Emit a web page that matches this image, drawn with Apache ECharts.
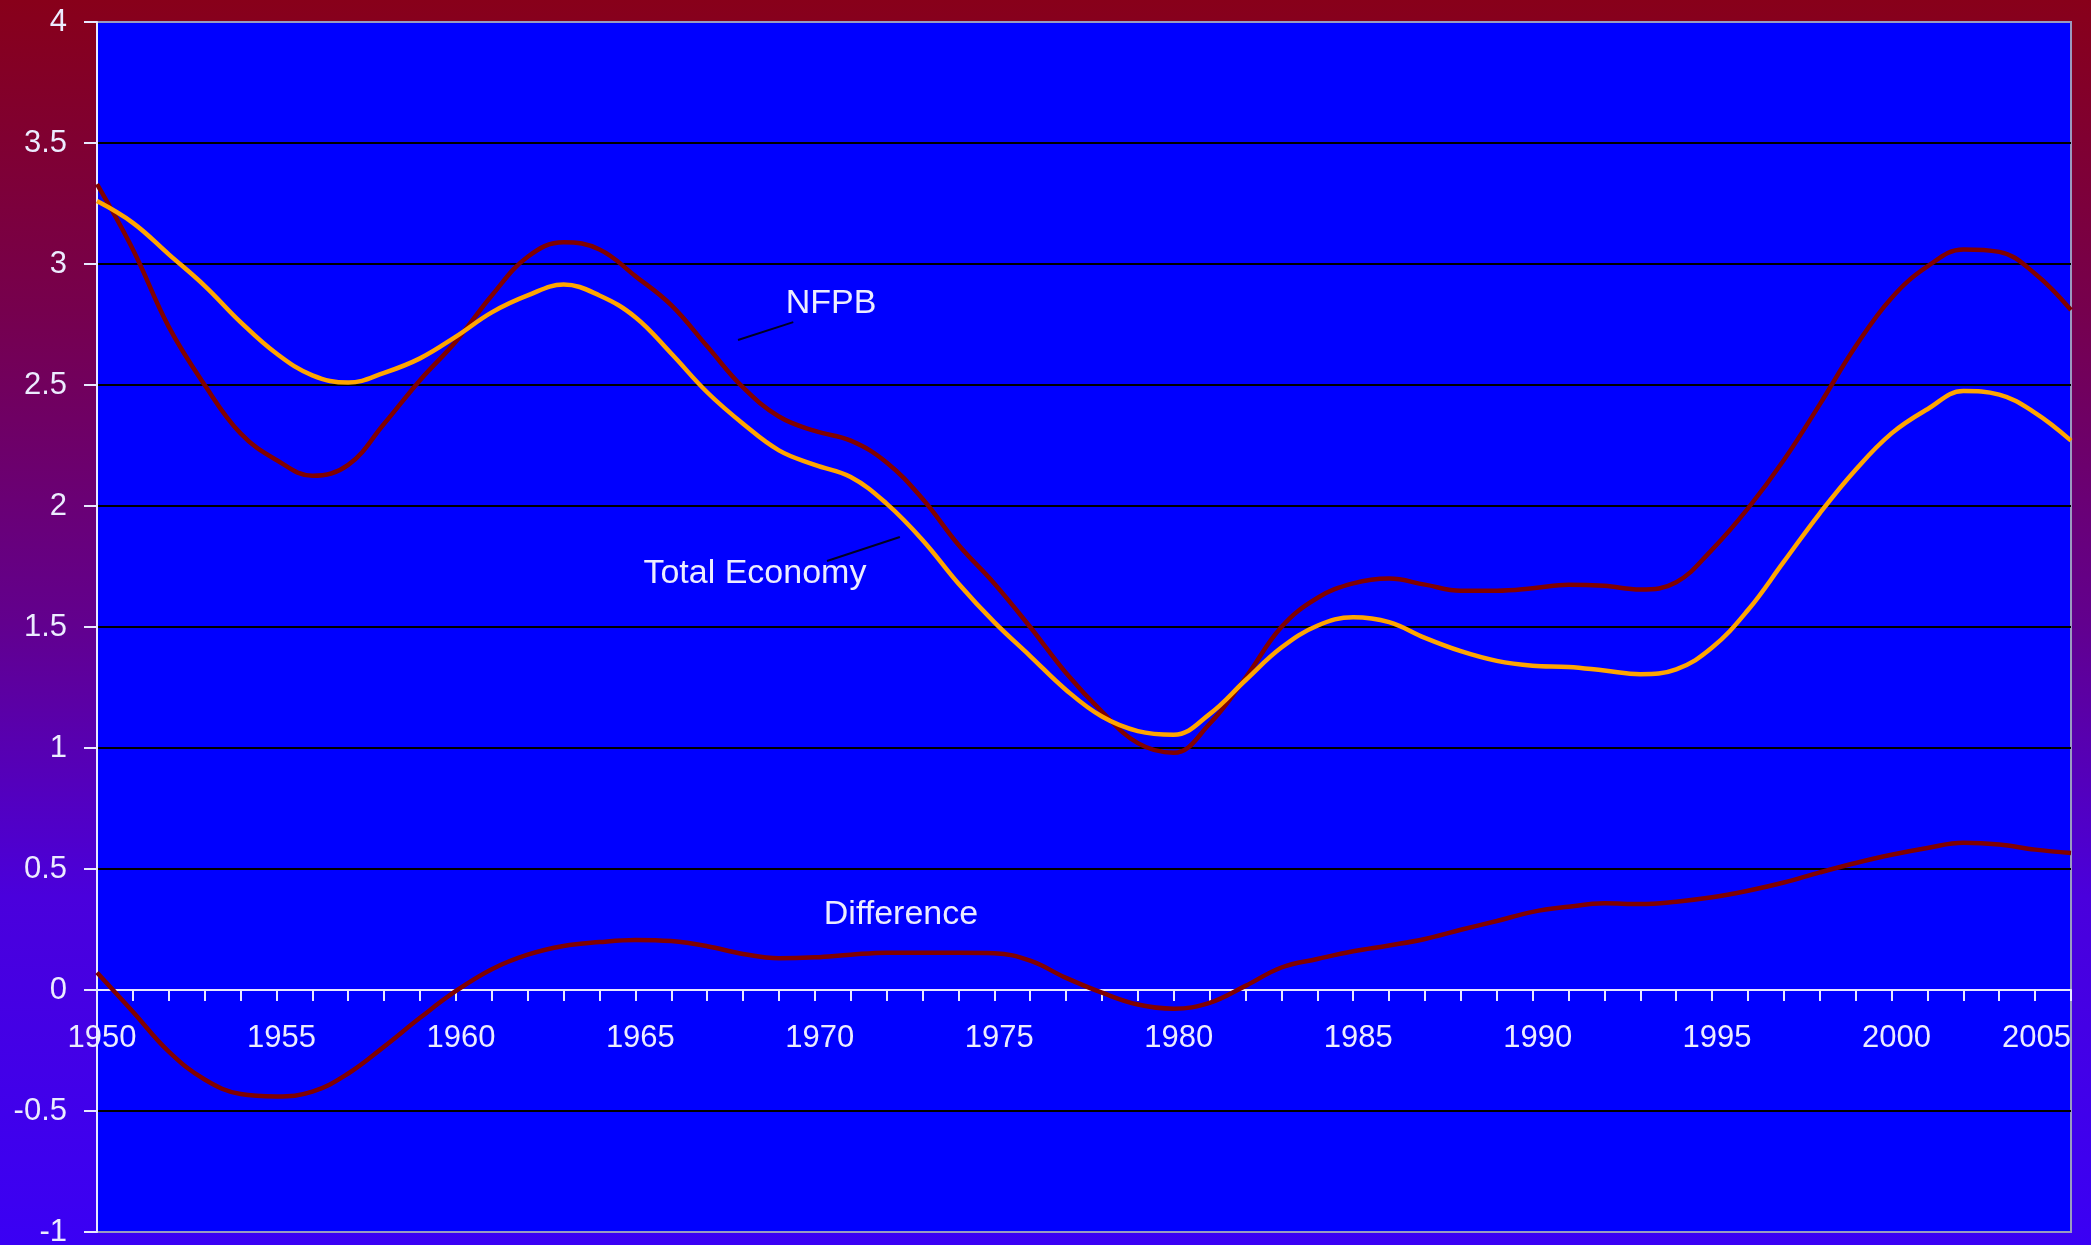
<!DOCTYPE html>
<html>
<head>
<meta charset="utf-8">
<script src="https://cdn.jsdelivr.net/npm/echarts@6/dist/echarts.min.js"></script>
<style>
  html, body { margin: 0; padding: 0; background: #3a00f4; }
  #chart { width: 2091px; height: 1245px; }
</style>
</head>
<body>
<div id="chart"></div>
<script>
// Trend growth rates, 1950-2005
const years = [
  1950, 1951, 1952, 1953, 1954, 1955, 1956, 1957, 1958, 1959,
  1960, 1961, 1962, 1963, 1964, 1965, 1966, 1967, 1968, 1969,
  1970, 1971, 1972, 1973, 1974, 1975, 1976, 1977, 1978, 1979,
  1980, 1981, 1982, 1983, 1984, 1985, 1986, 1987, 1988, 1989,
  1990, 1991, 1992, 1993, 1994, 1995, 1996, 1997, 1998, 1999,
  2000, 2001, 2002, 2003, 2004, 2005
];

const nfpb = [
  3.33, 3.06, 2.74, 2.50, 2.30, 2.19, 2.125, 2.17, 2.34, 2.52,
  2.68, 2.87, 3.03, 3.09, 3.06, 2.95, 2.83, 2.66, 2.49, 2.37,
  2.31, 2.27, 2.18, 2.03, 1.84, 1.68, 1.50, 1.31, 1.15, 1.02,
  0.98, 1.10, 1.29, 1.50, 1.62, 1.68, 1.70, 1.675, 1.65, 1.65,
  1.66, 1.675, 1.67, 1.655, 1.685, 1.82, 1.99, 2.19, 2.42, 2.66,
  2.86, 2.99, 3.06, 3.05, 2.96, 2.81
];

const totalEconomy = [
  3.26, 3.17, 3.04, 2.91, 2.76, 2.63, 2.54, 2.51, 2.55, 2.61,
  2.70, 2.80, 2.87, 2.915, 2.87, 2.78, 2.63, 2.47, 2.34, 2.23,
  2.17, 2.12, 2.01, 1.86, 1.68, 1.52, 1.38, 1.24, 1.13, 1.07,
  1.055, 1.14, 1.28, 1.415, 1.505, 1.54, 1.52, 1.455, 1.40, 1.36,
  1.34, 1.335, 1.32, 1.305, 1.325, 1.415, 1.57, 1.77, 1.97, 2.15,
  2.30, 2.40, 2.475, 2.46, 2.385, 2.27
];

const difference = [
  0.072, -0.09, -0.255, -0.37, -0.43, -0.44, -0.42, -0.345, -0.234, -0.115,
  -0.004, 0.086, 0.146, 0.182, 0.198, 0.207, 0.202, 0.181, 0.149, 0.131,
  0.135, 0.146, 0.154, 0.154, 0.154, 0.152, 0.121, 0.05, -0.011, -0.06,
  -0.077, -0.053, 0.017, 0.093, 0.128, 0.16, 0.184, 0.211, 0.249, 0.285,
  0.323, 0.344, 0.358, 0.355, 0.365, 0.383, 0.41, 0.444, 0.486, 0.525,
  0.559, 0.587, 0.608, 0.601, 0.58, 0.566
];

// Series names written beside the curves, placed in data coordinates
const seriesNotes = [
  { text: 'NFPB', at: [1970.45, 2.835] },
  { text: 'Total Economy', at: [1968.33, 1.72] },
  { text: 'Difference', at: [1972.4, 0.312] }
];
// Short leader strokes from the labels to their curves
const leaderLines = [
  [[1967.86, 2.686], [1969.4, 2.76]],
  [[1970.34, 1.773], [1972.37, 1.872]]
];

const FONT = '"Liberation Sans", Arial, sans-serif';
const TEXT_COLOR = '#ececff';
const AXIS_COLOR = '#e8e8ff';

const Y_MIN = -1, Y_MAX = 4;
const GRID = { left: 97, right: 20, top: 22, bottom: 13 };
const CHART_H = 1245;
// The year axis sits on the zero line: lift it from the grid bottom by the
// height that the value range below zero occupies.
const plotH = CHART_H - GRID.top - GRID.bottom;
const zeroLift = plotH * (0 - Y_MIN) / (Y_MAX - Y_MIN);

const pairs = (vals) => years.map((y, i) => [y, vals[i]]);

const chart = echarts.init(document.getElementById('chart'), null, { renderer: 'canvas' });

chart.setOption({
  animation: false,
  backgroundColor: {
    type: 'linear', x: 0, y: 0, x2: 0, y2: 1,
    colorStops: [
      { offset: 0, color: '#88001a' },
      { offset: 0.25, color: '#76004e' },
      { offset: 0.5, color: '#62008e' },
      { offset: 0.72, color: '#4a00dc' },
      { offset: 1, color: '#3a00f4' }
    ]
  },
  textStyle: { fontFamily: FONT },
  grid: {
    left: GRID.left, right: GRID.right, top: GRID.top, bottom: GRID.bottom,
    outerBoundsMode: 'none',
    show: true,
    backgroundColor: '#0000ff',
    borderColor: '#9a9ac0',
    borderWidth: 2
  },
  xAxis: {
    type: 'value',
    position: 'bottom',
    offset: -zeroLift,
    min: 1950, max: 2005, interval: 5,
    axisLine: { show: true, onZero: false, lineStyle: { color: AXIS_COLOR, width: 2 } },
    axisTick: { show: true, length: 11, lineStyle: { color: AXIS_COLOR, width: 2 } },
    minorTick: { show: true, splitNumber: 5, length: 11, lineStyle: { color: AXIS_COLOR, width: 2 } },
    splitLine: { show: false },
    axisLabel: {
      color: TEXT_COLOR, fontSize: 31, fontFamily: FONT, margin: 33,
      showMinLabel: true, showMaxLabel: true, alignMaxLabel: 'right',
      padding: [0, 0, 0, 10],
      formatter: (v) => String(v)
    }
  },
  yAxis: {
    type: 'value',
    min: Y_MIN, max: Y_MAX, interval: 0.5,
    axisLine: { show: true, onZero: false, lineStyle: { color: AXIS_COLOR, width: 2 } },
    axisTick: { show: true, length: 13, lineStyle: { color: AXIS_COLOR, width: 2 } },
    splitLine: {
      show: true, showMinLine: false, showMaxLine: false,
      lineStyle: { color: '#000000', width: 2 }
    },
    axisLabel: { color: TEXT_COLOR, fontSize: 31, fontFamily: FONT, margin: 30 }
  },
  series: [
    {
      name: 'NFPB',
      type: 'line',
      data: pairs(nfpb),
      showSymbol: false,
      smooth: 0.4,
      lineStyle: { color: '#800000', width: 4.5 },
      z: 3,
      markLine: {
        silent: true,
        symbol: ['none', 'none'],
        label: { show: false },
        lineStyle: { color: '#000022', width: 2, type: 'solid' },
        data: leaderLines.map(([a, b]) => [{ coord: a }, { coord: b }])
      },
      markPoint: {
        silent: true,
        symbol: 'circle',
        symbolSize: 0,
        itemStyle: { color: 'rgba(0,0,0,0)' },
        label: {
          show: true, position: 'inside', formatter: '{b}',
          color: TEXT_COLOR, fontSize: 34, fontFamily: FONT
        },
        data: seriesNotes.map(n => ({ name: n.text, coord: n.at }))
      }
    },
    {
      name: 'Total Economy',
      type: 'line',
      data: pairs(totalEconomy),
      showSymbol: false,
      smooth: 0.4,
      lineStyle: { color: '#ffa500', width: 4.5 },
      z: 4
    },
    {
      name: 'Difference',
      type: 'line',
      data: pairs(difference),
      showSymbol: false,
      smooth: 0.4,
      lineStyle: { color: '#800000', width: 4.5 },
      z: 3
    }
  ]
});
</script>
</body>
</html>
